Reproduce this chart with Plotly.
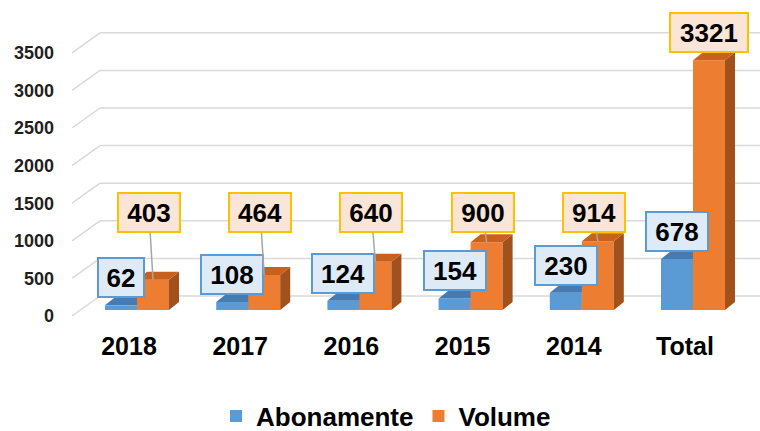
import plotly.graph_objects as go

categories = ["2018", "2017", "2016", "2015", "2014", "Total"]
abonamente = [62, 108, 124, 154, 230, 678]
volume = [403, 464, 640, 900, 914, 3321]
y_ticks = [0, 500, 1000, 1500, 2000, 2500, 3000, 3500]

# colours (front / top / side faces)
BLUE = ("#5B9BD5", "#457AB2", "#3E6E9E")
ORANGE = ("#ED7D31", "#C9611E", "#A0511C")
GRID = "#D9D9D9"

# pixel geometry of the fake 3D scene
W, H = 760, 431
PLOT_L, PLOT_B = 60, 320          # plot area: x 60..760, y 0..320
CAT_PX = 111.2                    # px per category
VAL_PX = 0.0752                   # px per value unit
ORIGIN_X, ORIGIN_Y = 137, 310     # pixel of (category 0, value 0) on bar front plane

def px2u(px):
    return (px - ORIGIN_X) / CAT_PX

bar_w = 32 / CAT_PX
depth_x = 10 / CAT_PX
depth_y = 8 / VAL_PX
front_dy = 6 / VAL_PX             # floor front edge below bar front plane
back_dy = 14 / VAL_PX             # back wall above bar front plane
label_gap = 27.5                  # px from bar top to label centre
label_row = 1290                  # value height where moved labels sit


def faces(values, x_left):
    top_x, top_y, side_x, side_y = [], [], [], []
    for i, v in enumerate(values):
        x0 = i + x_left
        x1 = x0 + bar_w
        top_x += [x0, x1, x1 + depth_x, x0 + depth_x, x0, None]
        top_y += [v, v, v + depth_y, v + depth_y, v, None]
        side_x += [x1, x1 + depth_x, x1 + depth_x, x1, x1, None]
        side_y += [0, depth_y, v + depth_y, v, 0, None]
    return top_x, top_y, side_x, side_y


fig = go.Figure()

series = [("Abonamente", abonamente, BLUE, -bar_w, "x", "y"),
          ("Volume", volume, ORANGE, 0, "x2", "y2")]

for name, vals, cols, x_left, xa, ya in series:
    fig.add_trace(go.Bar(
        x=list(range(len(vals))), y=vals, name=name, width=bar_w, offset=x_left,
        marker=dict(color=cols[0], line=dict(width=0)),
        xaxis=xa, yaxis=ya, hoverinfo="skip"))
    tx, ty, sx, sy = faces(vals, x_left)
    fig.add_trace(go.Scatter(x=sx, y=sy, fill="toself", fillcolor=cols[2], mode="none",
                             showlegend=False, hoverinfo="skip", xaxis=xa, yaxis=ya))
    fig.add_trace(go.Scatter(x=tx, y=ty, fill="toself", fillcolor=cols[1], mode="none",
                             showlegend=False, hoverinfo="skip", xaxis=xa, yaxis=ya))

# back wall gridlines + floor diagonals
for v in y_ticks:
    fig.add_shape(type="line", layer="below", xref="x", yref="y",
                  x0=px2u(100), x1=px2u(W), y0=v + back_dy, y1=v + back_dy,
                  line=dict(color=GRID, width=1.5))
    fig.add_shape(type="line", layer="below", xref="x", yref="y",
                  x0=px2u(72), x1=px2u(100), y0=v - front_dy, y1=v + back_dy,
                  line=dict(color=GRID, width=1.5))

FONT = "Liberation Sans, Arial, sans-serif"
LABEL_FONT = dict(family=FONT, size=26, color="black", weight="bold")

for i, v in enumerate(abonamente):
    t = str(v)
    fig.add_annotation(x=i - bar_w / 2, y=v, text=t, showarrow=False, yshift=label_gap,
                       font=LABEL_FONT, bgcolor="#DEEBF7", bordercolor="#5B9BD5",
                       borderwidth=2, borderpad=2, width=16 * len(t) + 8, height=33)

for i, v in enumerate(volume):
    t = str(v)
    box = dict(font=LABEL_FONT, bgcolor="#FBE5D6", bordercolor="#FFC000",
               borderwidth=2, borderpad=2, width=16 * len(t) + 8, height=33)
    if v + label_gap / VAL_PX < label_row:
        fig.add_annotation(x=i + bar_w / 2, y=v, text=t, showarrow=True, arrowhead=0,
                           arrowcolor="#A6A6A6", arrowwidth=1.5, ax=-4, ayref="y",
                           ay=label_row, **box)
    else:
        fig.add_annotation(x=i + bar_w / 2, y=v, text=t, showarrow=False,
                           yshift=label_gap, **box)

x_range = [px2u(PLOT_L), px2u(W)]
y_range = [(ORIGIN_Y - PLOT_B) / VAL_PX, ORIGIN_Y / VAL_PX]

fig.update_layout(
    width=W, height=H,
    margin=dict(l=PLOT_L, r=0, t=0, b=H - PLOT_B, pad=0, autoexpand=False),
    paper_bgcolor="white", plot_bgcolor="white",
    showlegend=True,
    legend=dict(orientation="h", x=(386 - PLOT_L) / (W - PLOT_L), xanchor="center",
                y=(PLOT_B - 416) / PLOT_B, yanchor="middle",
                font=dict(family=FONT, size=26, color="black", weight="bold"),
                itemwidth=30, traceorder="normal"),
    xaxis=dict(range=x_range, tickvals=list(range(len(categories))), ticktext=categories,
               showgrid=False, zeroline=False, showline=False, ticks="", automargin=False,
               ticklabelshift=-8, ticklabelstandoff=9,
               tickfont=dict(family=FONT, size=25, color="black", weight="bold")),
    yaxis=dict(range=y_range, tickvals=y_ticks, showgrid=False, zeroline=False,
               showline=False, ticks="", automargin=False,
               ticklabelshift=6, ticklabelstandoff=5,
               tickfont=dict(family=FONT, size=18, color="#1F1F1F", weight="bold")),
    xaxis2=dict(overlaying="x", matches="x", visible=False),
    yaxis2=dict(overlaying="y", matches="y", visible=False),
)

# drop the browser's default 8px body margin so the figure sits at the page corner
fig.write_html("out.html", config={"displayModeBar": False},
               post_script="document.body.style.margin = '0px';")
